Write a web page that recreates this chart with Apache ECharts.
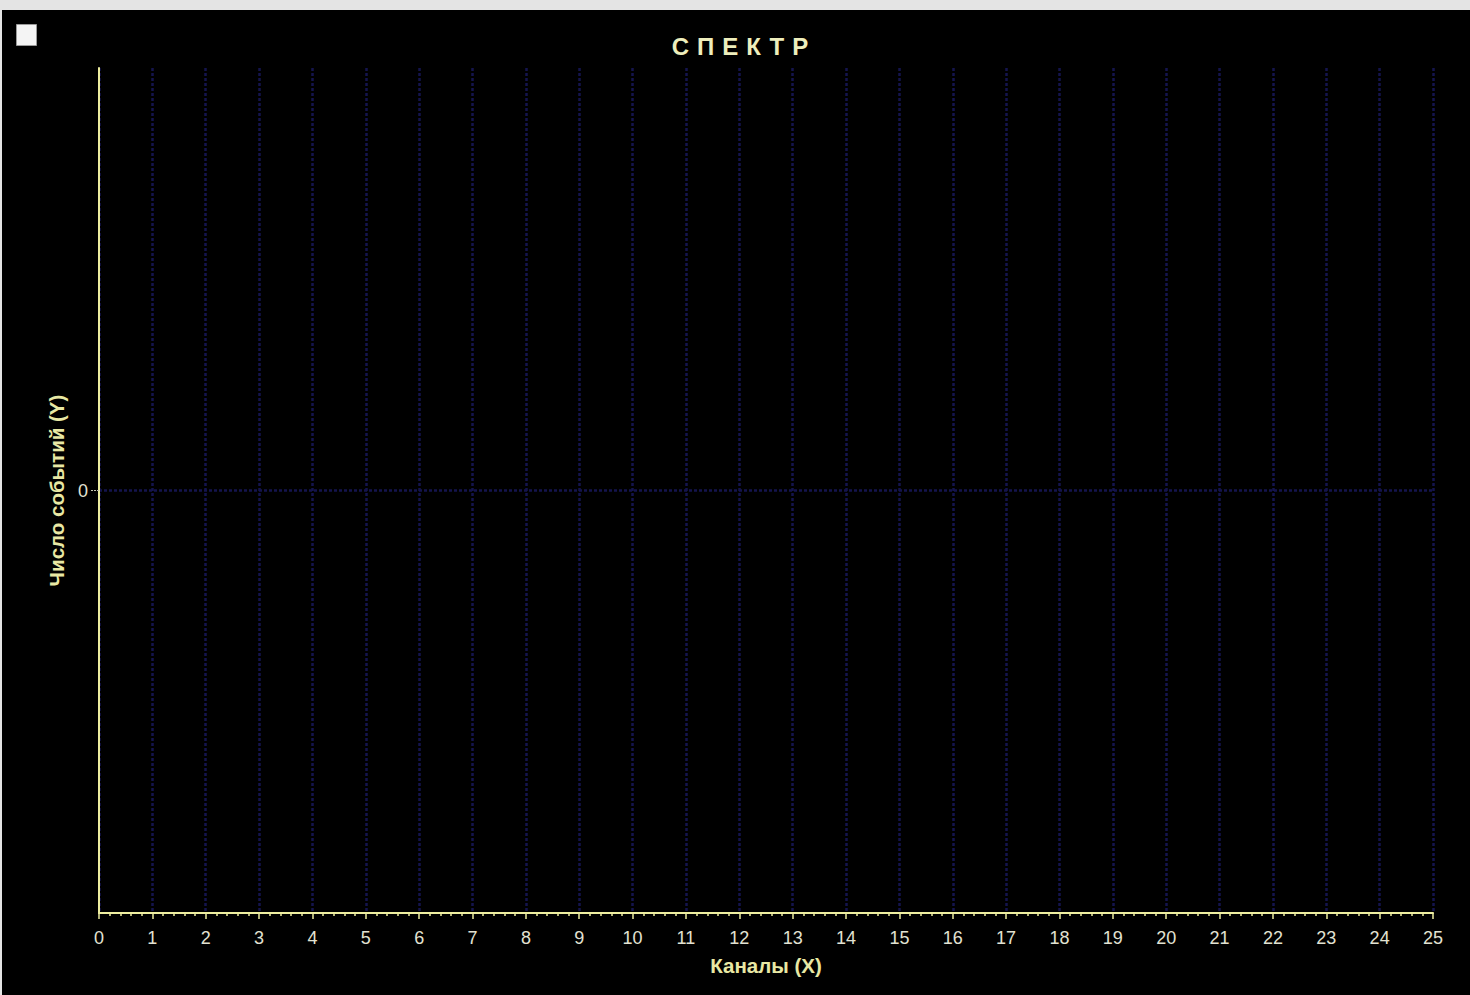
<!DOCTYPE html>
<html>
<head>
<meta charset="utf-8">
<script src="https://cdn.jsdelivr.net/npm/echarts@6/dist/echarts.min.js"></script>
<style>
html,body{margin:0;padding:0;width:1470px;height:995px;background:#e4e4e4;overflow:hidden;}
#chart{position:absolute;left:2px;top:10px;width:1468px;height:985px;background:#000;}
#chart svg text[style*="24px"]{letter-spacing:8px;}
</style>
</head>
<body>
<div id="chart"></div>
<script>
// Data
const titleText = 'СПЕКТР';
const xName = 'Каналы (X)';
const yName = 'Число событий (Y)';
const xMin = 0, xMax = 25, xStep = 1;
const yMin = -1, yMax = 1, yStep = 1;
const yShownLabels = [0];
const seriesData = []; // empty spectrum

const chart = echarts.init(document.getElementById('chart'), null, {renderer: 'svg'});
const labelColor = '#e2e2d2';
const axisColor = '#eeeea0';
const nameColor = '#e8e8a4';
chart.setOption({
  backgroundColor: '#000',
  animation: false,
  title: {
    text: titleText,
    left: 737, top: 19, textAlign: 'center',
    textStyle: {color: '#eeeebc', fontSize: 24, fontWeight: 'bold', fontFamily: 'Liberation Sans'}
  },
  graphic: [{
    type: 'rect', left: 14, top: 14,
    shape: {width: 20, height: 21},
    style: {fill: '#f4f4f4', stroke: '#9a9a9a', lineWidth: 1}
  }],
  grid: {left: 97, right: 37, top: 58, bottom: 82},
  xAxis: {
    type: 'value', min: xMin, max: xMax, interval: xStep,
    name: xName, nameLocation: 'middle', nameGap: 42,
    nameTextStyle: {color: nameColor, fontSize: 20.5, fontWeight: 'bold', fontFamily: 'Liberation Sans'},
    axisLine: {show: true, onZero: false, lineStyle: {color: axisColor, width: 2}},
    axisTick: {show: true, length: 6, lineStyle: {color: axisColor, width: 1.5}},
    minorTick: {show: true, splitNumber: 5, length: 3, lineStyle: {color: axisColor, width: 1.5}},
    axisLabel: {color: labelColor, fontSize: 18, margin: 16, fontFamily: 'Liberation Sans'},
    splitLine: {show: true, lineStyle: {color: '#14144e', width: 2.5, type: [3, 2]}}
  },
  yAxis: {
    type: 'value', min: yMin, max: yMax, interval: yStep,
    name: yName, nameLocation: 'middle', nameGap: 31, nameRotate: 90,
    nameTextStyle: {color: nameColor, fontSize: 20.5, fontWeight: 'bold', fontFamily: 'Liberation Sans'},
    axisLine: {show: true, onZero: false, lineStyle: {color: axisColor, width: 2}},
    axisTick: {show: true, length: 8, customValues: yShownLabels, lineStyle: {color: '#c8c8b4', width: 1, type: [2, 1]}},
    axisLabel: {color: labelColor, fontSize: 18, margin: 11, fontFamily: 'Liberation Sans',
      formatter: v => yShownLabels.includes(v) ? String(v) : ''},
    splitLine: {show: true, lineStyle: {color: '#14144e', width: 2.5, type: [3, 2]}}
  },
  series: [{type: 'line', data: seriesData, showSymbol: false, lineStyle: {color: '#ffff00'}}]
});
</script>
</body>
</html>
